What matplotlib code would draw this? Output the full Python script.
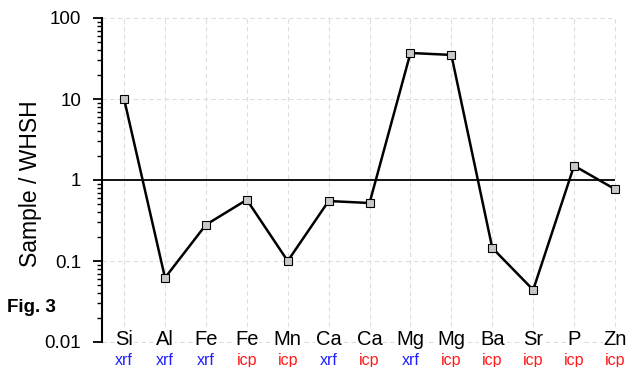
import matplotlib
matplotlib.use("Agg")
import matplotlib.pyplot as plt
from matplotlib.ticker import LogLocator, FixedLocator, NullFormatter, FixedFormatter

plt.rcParams['font.family'] = ['Liberation Sans', 'DejaVu Sans']

elements = ["Si", "Al", "Fe", "Fe", "Mn", "Ca", "Ca", "Mg", "Mg", "Ba", "Sr", "P", "Zn"]
methods = ["xrf", "xrf", "xrf", "icp", "icp", "xrf", "icp", "xrf", "icp", "icp", "icp", "icp", "icp"]
ratios = [10.0, 0.062, 0.28, 0.57, 0.10, 0.55, 0.52, 37.0, 35.0, 0.145, 0.044, 1.5, 0.77]
ytick_vals = [0.01, 0.1, 1, 10, 100]
ytick_labels = ["0.01", "0.1", "1", "10", "100"]
method_colors = {"xrf": "#1f1fff", "icp": "#ff1a1a"}

fig = plt.figure(figsize=(6.27, 3.67), dpi=100)
ax = fig.add_axes([102/627, 25/367, (615-102)/627, (342-18)/367])

x = list(range(len(elements)))
ax.set_yscale('log')
ax.set_ylim(ytick_vals[0], ytick_vals[-1])
ax.set_xlim(-0.54, len(elements) - 1)

# grid
ax.set_xticks(x)
ax.xaxis.set_major_formatter(NullFormatter())
ax.tick_params(axis='x', length=0)
ax.grid(True, which='major', color='#dddddd', linestyle=(0, (4, 3)), linewidth=0.8)
for gl in ax.get_xgridlines() + ax.get_ygridlines():
    gl.set_clip_on(False)
ax.set_axisbelow(True)

# reference line at 1
ax.hlines(1, ax.get_xlim()[0], x[-1], color='black', linewidth=1.3, zorder=2)

ax.plot(x, ratios, color='black', linewidth=1.8, marker='s', markersize=6.2,
        markerfacecolor='#c8c8c8', markeredgecolor='black', markeredgewidth=0.8,
        clip_on=False, zorder=3)

for s in ['top', 'right', 'bottom']:
    ax.spines[s].set_visible(False)
ax.spines['left'].set_linewidth(1.5)

ax.yaxis.set_major_locator(FixedLocator(ytick_vals))
ax.yaxis.set_major_formatter(FixedFormatter(ytick_labels))
ax.yaxis.set_minor_locator(LogLocator(base=10, subs=range(2, 10)))
ax.yaxis.set_minor_formatter(NullFormatter())
ax.tick_params(axis='y', which='major', direction='out', length=6.5, width=1.3,
               labelsize=13.5, pad=8.5)
ax.tick_params(axis='y', which='minor', direction='out', length=3.5, width=1.0)

ax.set_ylabel("Sample / WHSH", fontsize=16.5)
ax.yaxis.set_label_coords(-0.117, 0.49)

for xi, el, m in zip(x, elements, methods):
    ax.text(xi, -0.009, el, transform=ax.get_xaxis_transform(), ha='center', va='baseline',
            fontsize=14.5, color='black',
            bbox=dict(facecolor='white', edgecolor='none', pad=0.5))
    ax.text(xi, -0.071, m, transform=ax.get_xaxis_transform(), ha='center', va='baseline',
            fontsize=11.5, color=method_colors[m], clip_on=False)

fig.text(7/627, 1 - 307.5/367, "Fig. 3", fontsize=13.5, fontweight='bold', ha='left', va='center')

fig.savefig("out.png", dpi=100)
